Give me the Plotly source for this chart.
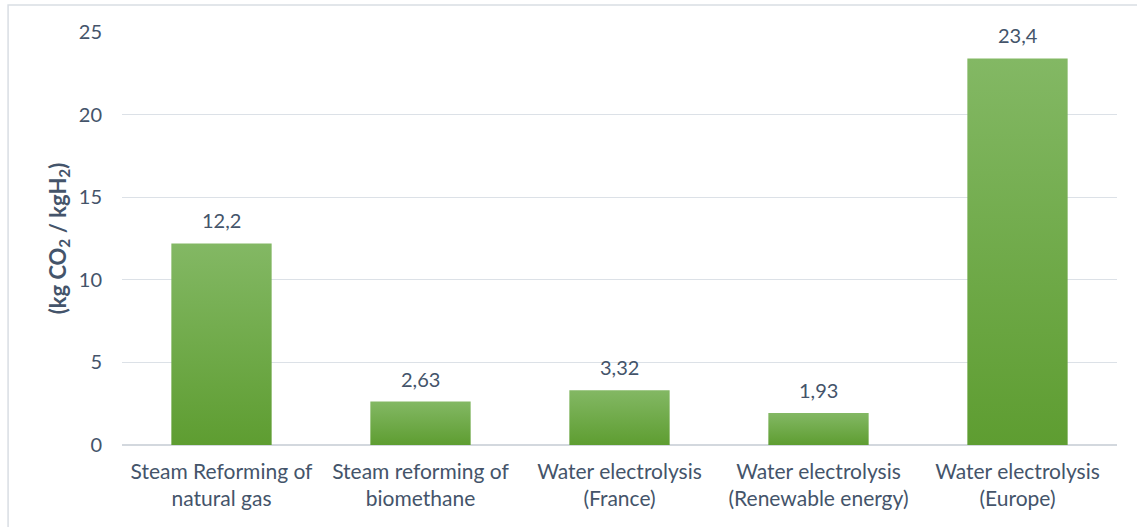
import plotly.graph_objects as go

# Emissions per kg of hydrogen by production route
categories = [
    "Steam Reforming of<br>natural gas",
    "Steam reforming of<br>biomethane",
    "Water electrolysis<br>(France)",
    "Water electrolysis<br>(Renewable energy)",
    "Water electrolysis<br>(Europe)",
]
values = [12.2, 2.63, 3.32, 1.93, 23.4]
y_ticks = [0, 5, 10, 15, 20, 25]

TEXT = "#44546A"
FONT = "Lato"
HALF = 0.252  # half bar width in category units

fig = go.Figure()

# each bar is a filled rectangle so it can carry a vertical gradient
for i, v in enumerate(values):
    fig.add_trace(go.Scatter(
        x=[i - HALF, i + HALF, i + HALF, i - HALF, i - HALF],
        y=[0, 0, v, v, 0],
        mode="lines",
        line=dict(width=0),
        fill="toself",
        fillgradient=dict(
            type="vertical",
            colorscale=[[0, "#5E9D31"], [1, "#83B864"]],
        ),
        hoverinfo="skip",
        showlegend=False,
    ))
    fig.add_annotation(
        x=i, y=v, text=f"{v:g}".replace(".", ","),
        showarrow=False, yanchor="bottom", yshift=9,
        font=dict(family=FONT, size=20, color=TEXT),
    )

# outer chart frame
fig.add_shape(
    type="rect", xref="paper", yref="paper",
    x0=-0.1145, x1=1.03, y0=-0.25, y1=1.0655,
    line=dict(color="#D9DEE4", width=1.5), fillcolor="rgba(0,0,0,0)",
    layer="below",
)

fig.update_layout(
    width=1137, height=527,
    margin=dict(l=122, r=20, t=32, b=82),
    paper_bgcolor="white", plot_bgcolor="white",
    font=dict(family=FONT, color=TEXT, size=20),
    xaxis=dict(
        range=[-0.5, 4.5],
        tickmode="array", tickvals=list(range(len(categories))), ticktext=categories,
        showgrid=False, zeroline=False,
        showline=False, ticks="",
        ticklabelstandoff=12,
        tickfont=dict(family=FONT, size=21, color=TEXT),
        fixedrange=True,
    ),
    yaxis=dict(
        range=[0, 25],
        tickmode="array", tickvals=y_ticks,
        showgrid=True, gridcolor="#DCE1E7", gridwidth=1,
        zeroline=True, zerolinecolor="#D3D8DE", zerolinewidth=2,
        showline=False, ticks="",
        ticklabelstandoff=19,
        tickfont=dict(family=FONT, size=20, color=TEXT),
        title=dict(
            text="<b>(kg CO<sub>2</sub> / kgH<sub>2</sub>)</b>",
            font=dict(family=FONT, size=22, color=TEXT),
            standoff=6,
        ),
        fixedrange=True,
    ),
    showlegend=False,
)

fig.write_html("out.html")
